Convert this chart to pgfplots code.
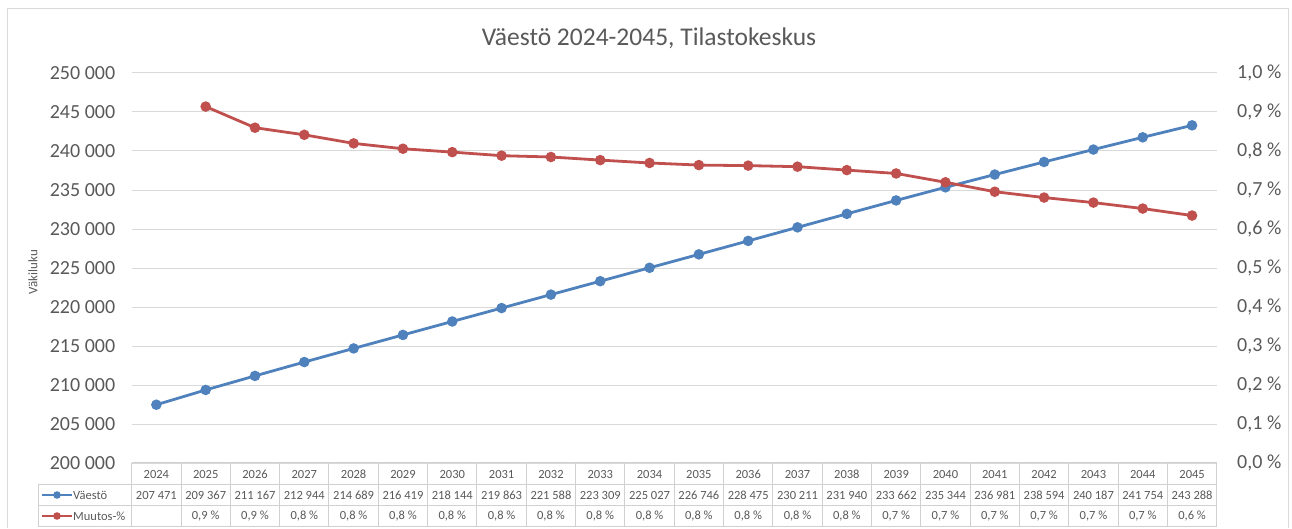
\documentclass[border=0pt]{standalone}
\usepackage{pgfplots}
\pgfplotsset{compat=1.18}
\usepackage{pgfplotstable}
\usepackage{fontspec}
\setmainfont{Carlito}
\definecolor{vblue}{HTML}{4F81BD}
\definecolor{vred}{HTML}{C0504D}
\definecolor{tgray}{HTML}{595959}
\definecolor{ggray}{HTML}{D9D9D9}
\definecolor{lgray}{HTML}{D0D0D0}

\pgfplotstableread{
idx year pop pct
0 2024 207471 nan
1 2025 209367 0.9139
2 2026 211167 0.8597
3 2027 212944 0.8415
4 2028 214689 0.8195
5 2029 216419 0.8058
6 2030 218144 0.7971
7 2031 219863 0.7880
8 2032 221588 0.7846
9 2033 223309 0.7767
10 2034 225027 0.7693
11 2035 226746 0.7639
12 2036 228475 0.7625
13 2037 230211 0.7598
14 2038 231940 0.7510
15 2039 233662 0.7424
16 2040 235344 0.7198
17 2041 236981 0.6956
18 2042 238594 0.6806
19 2043 240187 0.6677
20 2044 241754 0.6524
21 2045 243288 0.6345
}\data

\begin{document}
\begin{tikzpicture}[x=1pt,y=1pt]
\path[use as bounding box] (0,0) rectangle (1292,528);
\draw[ggray, line width=1pt] (7,0) -- (7,519) -- (1288,519) -- (1288,0);

\pgfplotsset{
  common/.style={
    at={(131.7pt,65pt)}, anchor=south west, scale only axis,
    width=1085pt, height=390pt,
    xmin=-0.5, xmax=21.5, xtick=\empty,
    axis line style={draw=none}, tick style={draw=none},
    major tick length=0pt,
    scaled y ticks=false,
    /pgf/number format/assume math mode=true,
    yticklabel style={font=\fontsize{20}{24}\selectfont, text=tgray},
    clip=false,
  }
}

\begin{axis}[common,
  ymin=200000, ymax=250000,
  ytick={200000,205000,...,250000},
  ymajorgrids, grid style={ggray, line width=1pt},
  yticklabel={\pgfmathprintnumber[fixed,precision=0,1000 sep={\ }]{\tick}},
  yticklabel style={xshift=-13pt},
]
\addplot[vblue, line width=2.8pt, mark=*, mark size=3.8pt, mark options={solid, fill=vblue, draw=vblue}]
  table[x=idx, y=pop] {\data};
\end{axis}

\begin{axis}[common,
  ymin=0, ymax=1,
  ytick={0,0.1,0.2,0.3,0.4,0.5,0.6,0.7,0.8,0.9,1.0},
  axis y line*=right,
  yticklabel={\pgfmathprintnumber[fixed,fixed zerofill,precision=1,use comma]{\tick}~\%},
  yticklabel style={xshift=17pt},
]
\addplot[vred, line width=2.8pt, mark=*, mark size=3.8pt, mark options={solid, fill=vred, draw=vred}, unbounded coords=discard]
  table[x=idx, y=pct] {\data};
\end{axis}

% title and y label
\node[font=\fontsize{25.5}{30}\selectfont, text=tgray] at (649,490) {Väestö 2024-2045, Tilastokeskus};
\node[font=\fontsize{13}{15}\selectfont, text=tgray, rotate=90] at (33,256) {Väkiluku};

% data table grid
\begin{scope}[lgray, line width=1pt]
  \foreach \k in {0,...,22} {
    \pgfmathsetmacro\xx{131.7+\k*49.32}
    \draw (\xx,65.3) -- (\xx,2);
  }
  \draw (131.7,65.3) -- (1216.7,65.3);
  \draw (38.3,43.7) -- (1216.7,43.7);
  \draw (38.3,22.3) -- (1216.7,22.3);
  \draw (38.3,2) -- (1216.7,2);
  \draw (38.3,43.7) -- (38.3,2);
\end{scope}

% legend keys
\draw[vblue, line width=2.8pt] (42,33) -- (72,33);
\fill[vblue] (57,33) circle (3.8pt);
\node[anchor=west, font=\fontsize{12.5}{15}\selectfont, text=tgray, inner sep=1pt] at (72,33) {Väestö};
\draw[vred, line width=2.8pt] (42,12) -- (72,12);
\fill[vred] (57,12) circle (3.8pt);
\node[anchor=west, font=\fontsize{12.5}{15}\selectfont, text=tgray, inner sep=1pt] at (72,12) {Muutos-\%};

% table text
\foreach \i in {0,...,21} {
  \pgfmathsetmacro\xx{131.7+(\i+0.5)*49.32}
  \pgfplotstablegetelem{\i}{year}\of\data
  \node[font=\fontsize{12.5}{15}\selectfont, text=tgray] at (\xx,54) {\pgfplotsretval};
  \pgfplotstablegetelem{\i}{pop}\of\data
  \node[font=\fontsize{12.5}{15}\selectfont, text=tgray] at (\xx,33) {\pgfmathprintnumber[fixed,precision=0,1000 sep={\ },assume math mode=true]{\pgfplotsretval}};
  \ifnum\i>0
    \pgfplotstablegetelem{\i}{pct}\of\data
    \node[font=\fontsize{12.5}{15}\selectfont, text=tgray] at (\xx,12) {\pgfmathprintnumber[fixed,fixed zerofill,precision=1,use comma,assume math mode=true]{\pgfplotsretval}~\%};
  \fi
}
\end{tikzpicture}
\end{document}
